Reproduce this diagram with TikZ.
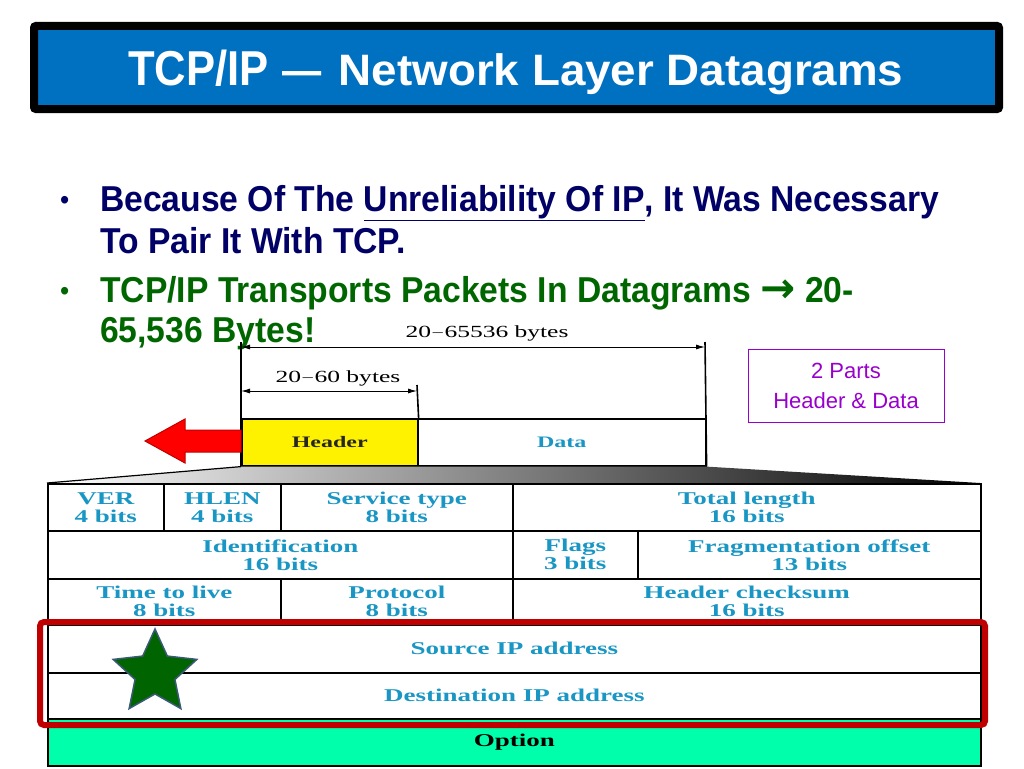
\documentclass[tikz,border=0pt]{standalone}
\usepackage{fontspec}
\setmainfont{Liberation Serif}
\newfontfamily\slidefont[FakeStretch=0.935]{Liberation Sans}
\newfontfamily\titlefont[FakeStretch=0.89]{Liberation Sans}
\newfontfamily\subtitlefont[FakeStretch=1.04]{Liberation Sans}
\newfontfamily\notefont{Liberation Sans}
\newfontfamily\figfont[FakeStretch=1.5]{Liberation Serif}
\newfontfamily\symfont{DejaVu Sans}
\usetikzlibrary{arrows.meta,shapes.geometric,positioning}

\definecolor{titleblue}{RGB}{0,112,192}
\definecolor{navytext}{RGB}{0,0,102}
\definecolor{bulletgreen}{RGB}{0,102,0}
\definecolor{fieldblue}{RGB}{25,150,195}
\definecolor{optgreen}{RGB}{0,255,170}
\definecolor{boxred}{RGB}{192,0,0}
\definecolor{notepurple}{RGB}{153,0,204}
\definecolor{stargreen}{RGB}{0,100,0}
\definecolor{staredge}{RGB}{60,90,120}

\begin{document}
\begin{tikzpicture}[x=1pt,y=-1pt,
    bullettext/.style={anchor=base west, inner sep=0, font=\slidefont\bfseries\fontsize{36}{36}\selectfont},
    bulletdot/.style={anchor=base west, inner sep=0, font=\slidefont\fontsize{28}{28}\selectfont},
    cell/.style={draw, line width=1.6, anchor=north west, inner sep=0, align=center, text=fieldblue,
                 font=\figfont\bfseries\fontsize{18}{18}\selectfont},
    dimarrow/.style={line width=1, {Latex[length=9,width=5]}-{Latex[length=9,width=5]}},
    dimlabel/.style={inner sep=1, font=\figfont\fontsize{17}{17}\selectfont}]
    \useasboundingbox (0,0) rectangle (1024,768);

    % Title bar
    \draw[line width=8, fill=titleblue, rounded corners=2] (34,26) rectangle (999,109);
    \node[text=white, anchor=base west, inner sep=0] (title) at (128,85)
        {\titlefont\bfseries\fontsize{49}{49}\selectfont TCP/IP\hspace{14pt}{\fontsize{44}{44}\selectfont—}\hspace{17pt}%
         \subtitlefont\bfseries\fontsize{44}{44}\selectfont Network Layer Datagrams};

    % Bullets
    \node[bulletdot, text=navytext] (dot1) at (60,209) {\textbullet};
    \node[bullettext, text=navytext] (b1a) at (100,211) {Because Of The \underline{Unreliability Of IP}, It Was Necessary};
    \node[bullettext, text=navytext] (b1b) at (100,253) {To Pair It With TCP.};
    \node[bulletdot, text=bulletgreen] (dot2) at (60,300) {\textbullet};
    \node[bullettext, text=bulletgreen] (b2a) at (100,302)
        {TCP/IP Transports Packets In Datagrams {\symfont\bfseries\fontsize{42}{42}\selectfont →} 20-};
    \node[bullettext, text=bulletgreen] (b2b) at (100,342) {65,536 Bytes!};

    % Header and data of the datagram
    \node[draw, line width=1.6, fill=yellow, anchor=north west, minimum width=176, minimum height=47, inner sep=0,
          text=black!85, font=\figfont\bfseries\fontsize{16}{16}\selectfont] (hdr) at (241,418) {Header};
    \node[draw, line width=1.6, anchor=north west, minimum width=288, minimum height=47, inner sep=0,
          text=fieldblue, font=\figfont\bfseries\fontsize{16}{16}\selectfont] (data) at (417,418) {Data};

    % Extension lines and sizes
    \coordinate (totL) at (241,347);
    \coordinate (totR) at (705,347);
    \coordinate (hdrR) at (417,391);
    \draw[line width=1.6] (241,342) -- (hdr.south west);
    \draw[line width=1.6] (705,342) -- (data.south east);
    \draw[line width=1.6] (417,385) -- (hdr.north east);
    \draw[dimarrow] (totL) -- (totR);
    \draw[dimarrow] (totL |- hdrR) -- (hdrR);
    \node[dimlabel] (totlab) at (487,333) {20$-$65536 bytes};
    \node[dimlabel] (hdrlab) at (338,378) {20$-$60 bytes};

    % Red arrow
    \fill[red, draw=red!75!black, line width=1] (145,441) -- (185,419) -- (185,430) -- (241,430)
        -- (241,452) -- (185,452) -- (185,463) -- cycle;

    % Zoom wedge
    \shade[left color=white, right color=black] (hdr.south west) -- (data.south east) -- (980,483) -- (47,483) -- cycle;
    \draw[line width=1.2] (hdr.south west) -- (47,483);

    % Header fields
    \node[cell, minimum width=116, minimum height=47] (ver) at (47,483) {VER\\4 bits};
    \node[cell, minimum width=117, minimum height=47] (hlen) at (163,483) {HLEN\\4 bits};
    \node[cell, minimum width=232, minimum height=47] (tos) at (280,483) {Service type\\8 bits};
    \node[cell, minimum width=468, minimum height=47] (totlen) at (512,483) {Total length\\16 bits};
    \node[cell, minimum width=465, minimum height=48] (ident) at (47,530) {Identification\\16 bits};
    \node[cell, minimum width=125, minimum height=48] (flags) at (512,530) {Flags\\3 bits};
    \node[cell, minimum width=343, minimum height=48] (frag) at (637,530) {Fragmentation offset\\13 bits};
    \node[cell, minimum width=233, minimum height=46] (ttl) at (47,578) {Time to live\\8 bits};
    \node[cell, minimum width=232, minimum height=46] (proto) at (280,578) {Protocol\\8 bits};
    \node[cell, minimum width=468, minimum height=46] (cksum) at (512,578) {Header checksum\\16 bits};
    \node[cell, minimum width=933, minimum height=48] (src) at (47,624) {Source IP address};
    \node[cell, minimum width=933, minimum height=46] (dst) at (47,672) {Destination IP address};
    \node[cell, minimum width=933, minimum height=47, fill=optgreen, text=black] (opt) at (47,718) {Option};

    % Highlight of the addresses
    \draw[boxred, line width=6, rounded corners=4] (40,622) rectangle (985,725);
    \node[star, star points=5, star point ratio=2.1, minimum size=88, inner sep=0,
          fill=stargreen, draw=staredge, line width=1.5] (star) at (155,673) {};

    % Note
    \node[draw=notepurple, line width=1, text=notepurple, align=center, minimum width=196, minimum height=73,
          font=\notefont\fontsize{22}{30}\selectfont] (note) at (846,386) {2 Parts\\Header \& Data};
\end{tikzpicture}
\end{document}
